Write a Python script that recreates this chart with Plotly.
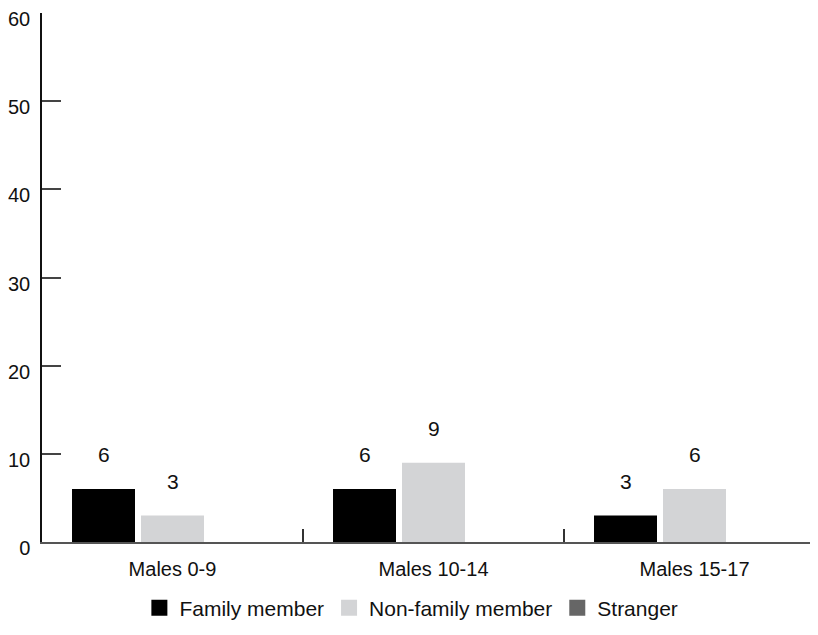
import plotly.graph_objects as go

categories = ["Males 0-9", "Males 10-14", "Males 15-17"]
family = [6, 6, 3]
non_family = [3, 9, 6]
stranger = [0, 0, 0]
series_names = ["Family member", "Non-family member", "Stranger"]
colors = ["#000000", "#d3d4d6", "#666666"]
y_ticks = [0, 10, 20, 30, 40, 50, 60]

FONT = "Liberation Sans, Arial, sans-serif"

fig = go.Figure()
for name, vals, col in zip(series_names, [family, non_family, stranger], colors):
    fig.add_trace(go.Bar(name=name, x=categories, y=vals, showlegend=False,
                         marker=dict(color=col, line=dict(width=0))))
# legend entries with larger square symbols
for name, col in zip(series_names, colors):
    fig.add_trace(go.Scatter(name=name, x=[None], y=[None], mode="markers",
                             marker=dict(symbol="square", size=16, color=col)))

bargap = 0.207
bargroupgap = 0.087
slot = (1 - bargap) / 3
annotations = []
for k, vals in enumerate([family, non_family, stranger]):
    off = (k - 1) * slot
    for i, v in enumerate(vals):
        if v == 0:
            continue
        annotations.append(dict(x=i + off, y=v, xref="x", yref="y", text=str(v),
                                showarrow=False, yanchor="bottom", yshift=21,
                                font=dict(size=21, color="#111111", family=FONT)))

# page body has an 8px margin in the browser, so the figure is sized to fit
fig.update_layout(
    width=810, height=627,
    margin=dict(l=34, r=0, t=5, b=93),
    paper_bgcolor="white", plot_bgcolor="white",
    barmode="group", bargap=bargap, bargroupgap=bargroupgap,
    font=dict(family=FONT, color="#111111"),
    showlegend=True,
    legend=dict(orientation="h", x=0.476, xanchor="center", y=-0.125, yanchor="middle",
                font=dict(size=21, color="#111111"), itemwidth=30, traceorder="normal"),
    annotations=annotations,
    xaxis=dict(range=[-0.5, -0.5 + 776 / 261], showgrid=False, zeroline=False,
               showline=True, linecolor="#555555", linewidth=2,
               ticks="inside", ticklen=13, tickcolor="#333333", tickwidth=1.5,
               tickson="boundaries", tickfont=dict(size=20, color="#111111"),
               ticklabelstandoff=8),
    yaxis=dict(range=[0, 60], tickvals=y_ticks, showgrid=False, zeroline=False,
               showline=True, linecolor="#111111", linewidth=1.5,
               ticks="inside", ticklen=19, tickcolor="#444444", tickwidth=1.5,
               tickfont=dict(size=20, color="#111111"), ticklabelstandoff=6,
               ticklabelshift=6, ticklabeloverflow="allow"),
)

fig.write_html("out.html")
